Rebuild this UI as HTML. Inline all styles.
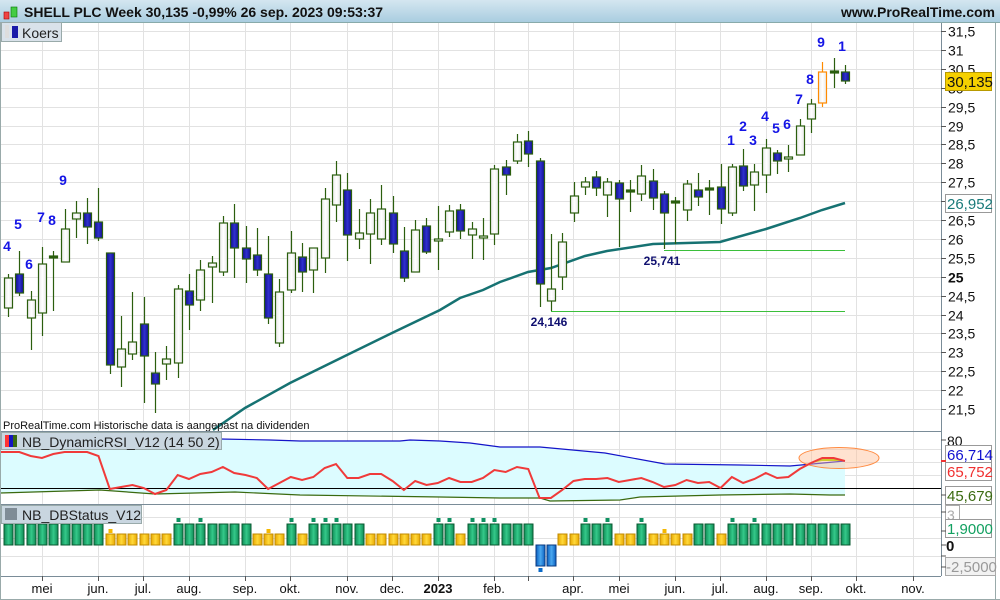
<!DOCTYPE html>
<html><head><meta charset="utf-8"><style>
body{margin:0;background:#fff;}
svg{display:block;font-family:"Liberation Sans",sans-serif;}
</style></head><body>
<svg id="s" width="1000" height="600" viewBox="0 0 1000 600" xmlns="http://www.w3.org/2000/svg">
<defs>
<linearGradient id="hdr" x1="0" y1="0" x2="0" y2="1"><stop offset="0" stop-color="#d4e6f0"/><stop offset="1" stop-color="#a9cde0"/></linearGradient>
<linearGradient id="bl" x1="0" y1="0" x2="1" y2="0"><stop offset="0" stop-color="#10108a"/><stop offset="0.5" stop-color="#3030d0"/><stop offset="1" stop-color="#10108a"/></linearGradient>
<linearGradient id="wh" x1="0" y1="0" x2="1" y2="0"><stop offset="0" stop-color="#e8e8e8"/><stop offset="0.5" stop-color="#ffffff"/><stop offset="1" stop-color="#e8e8e8"/></linearGradient>
<linearGradient id="gr" x1="0" y1="0" x2="1" y2="0"><stop offset="0" stop-color="#0e8a55"/><stop offset="0.5" stop-color="#35c98a"/><stop offset="1" stop-color="#0e8a55"/></linearGradient>
<linearGradient id="ye" x1="0" y1="0" x2="1" y2="0"><stop offset="0" stop-color="#e8a800"/><stop offset="0.5" stop-color="#ffd93a"/><stop offset="1" stop-color="#e8a800"/></linearGradient>
<linearGradient id="bu" x1="0" y1="0" x2="1" y2="0"><stop offset="0" stop-color="#0a5fc0"/><stop offset="0.5" stop-color="#4aa8f0"/><stop offset="1" stop-color="#0a5fc0"/></linearGradient>
</defs>
<rect x="0" y="0" width="1000" height="600" fill="#fff"/>
<g id="grid" stroke="#e2e2e2" stroke-width="1"></g>
<g id="main"></g>
<rect x="0" y="0" width="1000" height="22" fill="url(#hdr)"/>
<line x1="0" y1="22.5" x2="1000" y2="22.5" stroke="#8aa" />
<rect x="4" y="12" width="5" height="7" fill="#e44" stroke="#a00" stroke-width="0.6"/>
<rect x="11" y="7" width="6" height="10" fill="#4c4" stroke="#070" stroke-width="0.6"/>
<text x="24" y="17" font-size="14" font-weight="bold" fill="#111">SHELL PLC Week 30,135 -0,99% 26 sep. 2023 09:53:37</text>
<text x="995" y="17" font-size="14" font-weight="bold" fill="#111" text-anchor="end">www.ProRealTime.com</text>
<rect x="1.5" y="22.5" width="60" height="19" fill="#d9e2ea" stroke="#9aa"/>
<rect x="5" y="25" width="4" height="13" fill="#ddd"/><rect x="12" y="26" width="6" height="12" fill="#1a1aa8"/>
<text x="22" y="38" font-size="14" fill="#222">Koers</text>
<text x="3" y="429" font-size="11" fill="#111">ProRealTime.com  Historische data is aangepast na dividenden</text>
<line x1="941.5" y1="23" x2="941.5" y2="576" stroke="#7a8c98"/>
<line x1="995.5" y1="23" x2="995.5" y2="600" stroke="#9aa"/>
<line x1="0" y1="431.5" x2="941" y2="431.5" stroke="#7a8c98"/>
<line x1="0" y1="504.5" x2="941" y2="504.5" stroke="#7a8c98"/>
<line x1="0" y1="576.5" x2="941" y2="576.5" stroke="#7a8c98"/>
<line x1="0.5" y1="22" x2="0.5" y2="600" stroke="#9aa"/>
<line x1="0" y1="599.5" x2="1000" y2="599.5" stroke="#9aa"/>
<g id="axis" font-size="14" fill="#111"></g>
<rect x="945.5" y="72.5" width="46" height="18" fill="#f5d000" stroke="#b89a00"/>
<text x="947" y="87" font-size="15" fill="#111">30,135</text>
<rect x="945.5" y="194.5" width="46" height="18" fill="#fff" stroke="#999"/>
<text x="947" y="209" font-size="15" fill="#1a7a7a">26,952</text>
<text x="947" y="446" font-size="14" fill="#111">80</text>
<line x1="941" y1="440" x2="946" y2="440" stroke="#555"/>
<rect x="945.5" y="445.5" width="46" height="18" fill="#fff" stroke="#999"/>
<text x="947" y="460" font-size="15" fill="#1010d0">66,714</text>
<rect x="945.5" y="462.5" width="46" height="18" fill="#fff" stroke="#999"/>
<text x="947" y="477" font-size="15" fill="#f03030">65,752</text>
<rect x="945.5" y="486.5" width="46" height="18" fill="#fff" stroke="#999"/>
<text x="947" y="501" font-size="15" fill="#3a6a10">45,679</text>
<line x1="941" y1="461" x2="946" y2="461" stroke="#e33" stroke-width="2"/>
<rect x="945.5" y="505.5" width="14" height="18" fill="#fff" stroke="#aaa"/>
<text x="947" y="520" font-size="14" fill="#aaa">3</text>
<rect x="945.5" y="519.5" width="46" height="18" fill="#fff" stroke="#999"/>
<text x="947" y="534" font-size="15" fill="#12a060">1,9000</text>
<text x="946" y="551" font-size="15" font-weight="bold" fill="#111">0</text>
<rect x="945.5" y="557.5" width="50" height="18" fill="#f2f2f2" stroke="#aaa"/>
<text x="946" y="572" font-size="15" fill="#999">-2,5000</text>
<g stroke="#555"><line x1="941" y1="495" x2="946" y2="495"/><line x1="941" y1="512" x2="946" y2="512"/><line x1="941" y1="531" x2="946" y2="531"/><line x1="941" y1="545" x2="946" y2="545"/><line x1="941" y1="556" x2="946" y2="556"/><line x1="941" y1="567" x2="946" y2="567"/></g>
<g id="dates" font-size="13" fill="#111" text-anchor="middle"></g>
<rect x="1.5" y="432.5" width="220" height="17" fill="#c9d6e0" stroke="#9aa"/>
<rect x="5" y="435" width="4" height="12" fill="#f33"/><rect x="9" y="435" width="4" height="12" fill="#1515c0"/><rect x="13" y="435" width="4" height="12" fill="#3a6a10"/>
<text x="22" y="447" font-size="14" fill="#222">NB_DynamicRSI_V12 (14 50 2)</text>
<rect x="1.5" y="505.5" width="140" height="18" fill="#c9d6e0" stroke="#9aa"/>
<rect x="5" y="508" width="12" height="12" fill="#7f8c96"/>
<text x="22" y="520" font-size="14" fill="#222">NB_DBStatus_V12</text>
<g font-size="14" font-weight="bold" fill="#1414e6" text-anchor="middle">
<text x="7" y="251">4</text><text x="18" y="229">5</text><text x="29" y="269">6</text><text x="41" y="222">7</text><text x="52" y="225">8</text><text x="63" y="185">9</text>
<text x="731" y="145">1</text><text x="743" y="131">2</text><text x="753" y="145">3</text><text x="765" y="121">4</text><text x="776" y="133">5</text><text x="787" y="129">6</text><text x="799" y="104">7</text><text x="810" y="84">8</text><text x="821" y="47">9</text><text x="842" y="51">1</text>
</g>
<g font-size="12" font-weight="bold" fill="#101070" text-anchor="middle">
<text x="662" y="265">25,741</text><text x="549" y="326">24,146</text>
</g>
</svg>
<script>
var NS="http://www.w3.org/2000/svg";
function el(p,t,a){var e=document.createElementNS(NS,t);for(var k in a)e.setAttribute(k,a[k]);document.getElementById(p).appendChild(e);return e;}
var months=[[42,"mei"],[98,"jun."],[143,"jul."],[189,"aug."],[245,"sep."],[290,"okt."],[347,"nov."],[392,"dec."],[438,"2023"],[494,"feb."],[528,""],[573,"apr."],[619,"mei"],[675,"jun."],[720,"jul."],[766,"aug."],[811,"sep."],[856,"okt."],[913,"nov."]];
months.forEach(function(m){el("grid","line",{x1:m[0]+.5,y1:23,x2:m[0]+.5,y2:576});
 el("dates","line",{x1:m[0]+.5,y1:576,x2:m[0]+.5,y2:581,stroke:"#555"});
 if(m[1]){var t=el("dates","text",{x:m[0],y:593});t.textContent=m[1];if(m[1]=="2023")t.setAttribute("font-weight","bold");}});
function Y(p){return 31+(31.5-p)*37.8;}
for(var p=21.5;p<=31.5;p+=0.5){var y=Math.round(Y(p))+.5;el("grid","line",{x1:0,y1:y,x2:941,y2:y});
 el("axis","line",{x1:941,y1:y,x2:946,y2:y,stroke:"#555"});
 var s=(p%1==0)?String(p):String(Math.floor(p))+",5";var t=el("axis","text",{x:948,y:y+5});t.textContent=s;if(p==25)t.setAttribute("font-weight","bold");}
[449,462,475,517,538,556].forEach(function(y){el("grid","line",{x1:0,y1:y+.5,x2:941,y2:y+.5});});
var C=[[278,308,274,317,'w'],[274,293,251,296,'b'],[300,318,291,350,'w'],[264,313,247,336,'w'],[256,258,251,311,'d'],[229,262,209,262,'w'],[213,219,201,238,'w'],[213,227,198,244,'b'],[222,238,188,241,'b'],[253,365,253,374,'b'],
[349,367,316,387,'w'],[342,354,292,360,'w'],[324,356,297,403,'b'],[373,384,352,413,'b'],[359,364,346,380,'w'],[289,363,285,378,'w'],[291,305,274,330,'b'],[270,300,260,311,'w'],[263,267,256,303,'w'],[223,272,216,276,'w'],
[223,248,204,278,'b'],[248,259,226,283,'b'],[255,270,228,276,'b'],[274,318,236,324,'b'],[292,343,279,347,'w'],[253,290,231,293,'w'],[257,272,243,292,'b'],[248,270,248,293,'w'],[199,258,188,273,'w'],[175,205,161,222,'w'],
[190,235,173,261,'b'],[233,239,209,249,'w'],[213,234,199,264,'w'],[209,239,185,245,'w'],[213,244,196,253,'b'],[251,278,227,282,'b'],[230,272,220,272,'w'],[226,252,218,254,'b'],[239,241,206,270,'w'],[211,232,205,237,'w'],
[210,231,204,239,'b'],[229,235,222,259,'w'],[236,238,218,260,'w'],[169,234,165,245,'w'],[167,175,160,195,'b'],[142,161,134,164,'w'],[141,154,131,167,'b'],[161,284,158,307,'b'],[289,301,234,311,'w'],[242,277,233,290,'w'],
[196,213,182,222,'w'],[182,187,177,195,'w'],[177,188,171,196,'b'],[182,195,178,217,'w'],[183,199,180,247,'b'],[190,192,180,212,'d'],[176,194,165,201,'w'],[181,198,169,210,'b'],[194,213,191,249,'b'],[201,203,197,244,'d'],
[184,210,180,221,'w'],[190,197,173,206,'b'],[188,190,180,215,'d'],[187,209,164,224,'b'],[167,213,164,216,'w'],[166,186,149,191,'b'],[172,185,164,211,'w'],[148,175,139,193,'w'],[153,161,150,174,'b'],[157,159,145,172,'w'],
[126,155,119,155,'w'],[104,119,99,133,'w'],[72,103,62,107,'o'],[71,73,58,88,'d'],[72,81,65,84,'b']];
function X(i){return 8+i*11.31;}
el("main","polyline",{points:"213,430 245,408 290,383 347,355 392,333 440,310 460,298 483,290 500,282 528,272 551,268 585,256 607,251 653,244 720,242 766,229 800,218 822,210 845,203",fill:"none",stroke:"#167272","stroke-width":2.5});
el("main","line",{x1:664,y1:250.5,x2:845,y2:250.5,stroke:"#3bbf3b"});
el("main","line",{x1:551,y1:311.5,x2:845,y2:311.5,stroke:"#3bbf3b"});
C.forEach(function(c,i){var x=Math.round(X(i));var sc=c[4]=='o'?"#ff8a00":"#2b5e0e";
 el("main","line",{x1:x+.5,y1:c[2],x2:x+.5,y2:c[3],stroke:sc,"stroke-width":1.2});
 var h=Math.max(c[1]-c[0],1.5);
 var f=c[4]=='b'?"url(#bl)":(c[4]=='d'?"#2b5e0e":"url(#wh)");
 el("main","rect",{x:x-3.5,y:c[0],width:8,height:h,fill:f,stroke:sc,"stroke-width":1.2});});
var up="0,439 100,439 220,439 270,440 300,441 400,441 410,440 440,441 470,443 500,447 540,447 605,453 665,464 740,465 790,466 845,461";
var lo="845,495 830,495 790,494 720,495 640,497 620,500 550,501 540,498 500,498 440,497 300,495 235,492 155,494 100,490 0,493";
el("main","polygon",{points:up+" "+lo,fill:"#dcfcff"});
el("main","polyline",{points:up,fill:"none",stroke:"#1414c8","stroke-width":1.2});
el("main","polyline",{points:lo,fill:"none",stroke:"#3a6a10","stroke-width":1.2});
el("main","line",{x1:0,y1:488.5,x2:941,y2:488.5,stroke:"#000"});
el("main","ellipse",{cx:839,cy:458,rx:40,ry:10.5,fill:"rgba(255,190,150,0.45)",stroke:"#ff8a40"});
el("main","polygon",{points:"811,463 822,458 834,458 845,461 822,461",fill:"#cccc30"});
var r=[452,456,458,454,452,452,452,456,489,487,485,488,494,490,475,479,474,472,467,473,475,478,489,483,477,480,477,468,464,478,478,474,474,481,490,481,485,483,478,482,482,478,470,472,467,469,498,498,490,481,479,479,478,482,480,478,482,487,485,480,483,482,488,477,483,479,473,478,477,469,463,458,458,461];
var pts=["0,452"];r.forEach(function(v,i){pts.push(X(i+1)+","+v);});
el("main","polyline",{points:pts.join(" "),fill:"none",stroke:"#f03a3a","stroke-width":2});
var segs=[['g',9],['y',6],['g',7],['y',3],['g',1],['y',1],['g',5],['y',6],['g',2],['y',1],['g',6],['b',2],['y',2],['g',3],['y',2],['g',1],['y',4],['g',2],['y',1],['g',11]];
var D="";segs.forEach(function(s){for(var k=0;k<s[1];k++)D+=s[0];});
var G=[15,17,25,27,28,29,38,39,41,42,43,51,53,56,64,66],Yq=[9,23,58],B=[47];
for(var i=0;i<75;i++){var x=Math.round(X(i)),t=D[i];
 if(t=='g')el("main","rect",{x:x-4,y:524,width:9,height:21,fill:"url(#gr)",stroke:"#0a5a30"});
 else if(t=='y')el("main","rect",{x:x-4,y:534,width:9,height:11,fill:"url(#ye)",stroke:"#c08a00"});
 else el("main","rect",{x:x-4,y:545,width:9,height:21,fill:"url(#bu)",stroke:"#0a3a80"});}
G.forEach(function(i){el("main","rect",{x:Math.round(X(i))-1.5,y:518,width:4,height:4,fill:"#0e9060"});});
Yq.forEach(function(i){el("main","rect",{x:Math.round(X(i))-1.5,y:529,width:4,height:4,fill:"#f5b800"});});
B.forEach(function(i){el("main","rect",{x:Math.round(X(i))-1.5,y:568,width:4,height:4,fill:"#0a6ac8"});});
</script>
</body></html>
